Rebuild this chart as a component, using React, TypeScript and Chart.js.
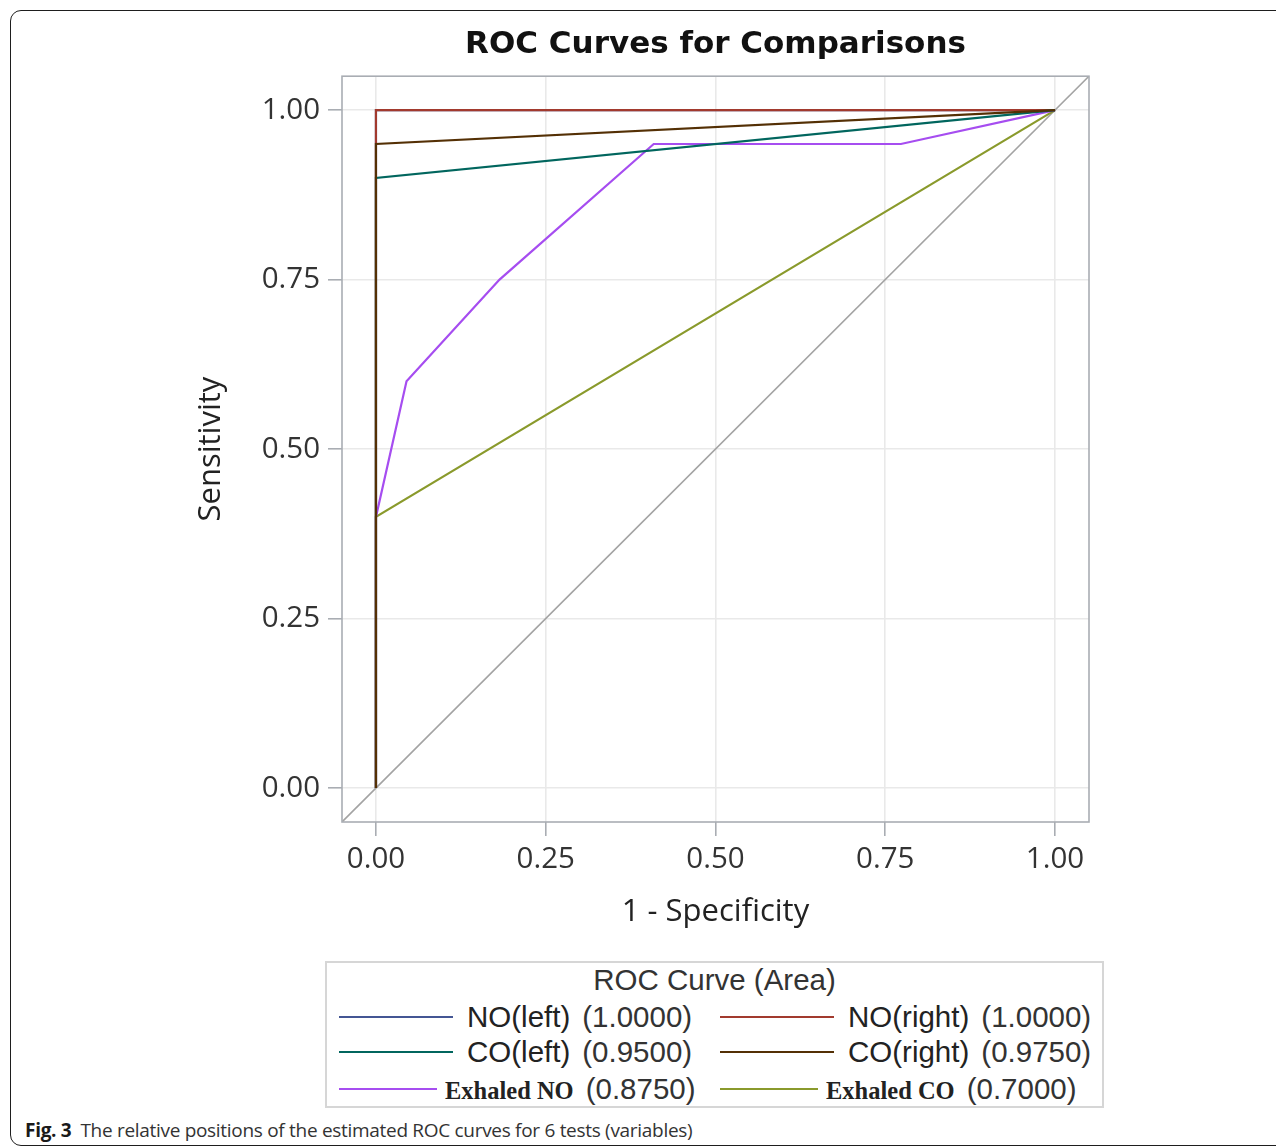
import React, { useEffect, useRef } from "react";
import { Chart, registerables } from "chart.js";

Chart.register(...registerables);

// ---------- data ----------
const TITLE = "ROC Curves for Comparisons";
const X_TITLE = "1 - Specificity";
const Y_TITLE = "Sensitivity";
const AXIS_MIN = -0.05;
const AXIS_MAX = 1.05;
const TICKS = [0, 0.25, 0.5, 0.75, 1];

const LEGEND_TITLE = "ROC Curve (Area)";
const SERIES_NAMES = ["NO(left)", "NO(right)", "CO(left)", "CO(right)", "Exhaled NO", "Exhaled CO"];
const SERIES_AREAS = ["1.0000", "1.0000", "0.9500", "0.9750", "0.8750", "0.7000"];

const NO_LEFT_X = [0, 0, 1];
const NO_LEFT_Y = [0, 1, 1];
const NO_RIGHT_X = [0, 0, 1];
const NO_RIGHT_Y = [0, 1, 1];
const CO_LEFT_X = [0, 0, 1];
const CO_LEFT_Y = [0, 0.9, 1];
const CO_RIGHT_X = [0, 0, 1];
const CO_RIGHT_Y = [0, 0.95, 1];
const EXH_NO_X = [0, 0, 0.045, 0.182, 0.409, 0.773, 1];
const EXH_NO_Y = [0, 0.4, 0.6, 0.75, 0.95, 0.95, 1];
const EXH_CO_X = [0, 0, 1];
const EXH_CO_Y = [0, 0.4, 1];
const DIAG_X = [-0.05, 1.05];
const DIAG_Y = [-0.05, 1.05];

const CAPTION_BOLD = "Fig. 3";
const CAPTION_TEXT = "The relative positions of the estimated ROC curves for 6 tests (variables)";

// ---------- style ----------
const COLORS = ["#445694", "#A23A2E", "#01665E", "#543005", "#A64DF0", "#8A9A2C"];
const SERIF_LABEL = [false, false, false, false, true, true];
const SERIES_X = [NO_LEFT_X, NO_RIGHT_X, CO_LEFT_X, CO_RIGHT_X, EXH_NO_X, EXH_CO_X];
const SERIES_Y = [NO_LEFT_Y, NO_RIGHT_Y, CO_LEFT_Y, CO_RIGHT_Y, EXH_NO_Y, EXH_CO_Y];
// drawing order (lower = on top)
const DRAW_ORDER = [4, 3, 2, 1, 5, 6];

const AXIS_GRAY = "#a9adb3";
const SANS = "'Open Sans', 'Noto Sans', sans-serif";

const toPoints = (xs: number[], ys: number[]) => xs.map((x, i) => ({ x, y: ys[i] }));

const framePlugin = {
  id: "plotFrame",
  afterDraw(chart: any) {
    const { ctx, chartArea } = chart;
    ctx.save();
    ctx.strokeStyle = AXIS_GRAY;
    ctx.lineWidth = 1.6;
    ctx.strokeRect(chartArea.left, chartArea.top, chartArea.right - chartArea.left, chartArea.bottom - chartArea.top);
    ctx.restore();
  },
};

// page -> root coordinates (body margin 8)
const P = (v: number) => v - 8;

function RocChart() {
  const ref = useRef<HTMLCanvasElement | null>(null);
  useEffect(() => {
    if (!ref.current) return;
    const datasets: any[] = SERIES_NAMES.map((name, i) => ({
      label: name,
      data: toPoints(SERIES_X[i], SERIES_Y[i]),
      borderColor: COLORS[i],
      backgroundColor: COLORS[i],
      borderWidth: 2.2,
      pointRadius: 0,
      tension: 0,
      fill: false,
      order: DRAW_ORDER[i],
    }));
    datasets.push({
      label: "diagonal",
      data: toPoints(DIAG_X, DIAG_Y),
      borderColor: "#a3a3a3",
      borderWidth: 1.6,
      pointRadius: 0,
      fill: false,
      order: 10,
    });
    const tickFont = { family: SANS, size: 29.5 };
    const chart = new Chart(ref.current, {
      type: "line",
      data: { datasets },
      plugins: [framePlugin],
      options: {
        animation: false,
        responsive: true,
        maintainAspectRatio: false,
        layout: { padding: { left: 0, right: 10, top: 0, bottom: 0 } },
        plugins: {
          legend: { display: false },
          tooltip: { enabled: false },
          title: {
            display: true,
            text: TITLE,
            fullSize: false,
            color: "#111",
            font: { family: "'DejaVu Sans', sans-serif", size: 31, weight: "bold", lineHeight: 1.2 },
            padding: { top: 16, bottom: 13 },
          },
        },
        scales: {
          x: {
            type: "linear",
            min: AXIS_MIN,
            max: AXIS_MAX,
            afterBuildTicks: (s: any) => {
              s.ticks = TICKS.map((v) => ({ value: v }));
            },
            afterFit: (s: any) => {
              s.height = 118;
            },
            ticks: {
              font: tickFont,
              color: "#333",
              padding: 6,
              maxRotation: 0,
              callback: (v: any) => Number(v).toFixed(2),
            },
            grid: {
              color: "#e9e9e9",
              lineWidth: 1.6,
              tickColor: AXIS_GRAY,
              tickWidth: 1.6,
              tickLength: 14,
            },
            border: { display: false },
            title: {
              display: true,
              text: X_TITLE,
              color: "#222",
              font: { family: SANS, size: 31, lineHeight: 1.2 },
              padding: { top: 0, bottom: 9.5 },
            },
          },
          y: {
            type: "linear",
            min: AXIS_MIN,
            max: AXIS_MAX,
            afterBuildTicks: (s: any) => {
              s.ticks = TICKS.map((v) => ({ value: v }));
            },
            afterFit: (s: any) => {
              s.width = 192;
            },
            ticks: {
              font: tickFont,
              color: "#333",
              padding: 8,
              callback: (v: any) => Number(v).toFixed(2),
            },
            grid: {
              color: "#e9e9e9",
              lineWidth: 1.6,
              tickColor: AXIS_GRAY,
              tickWidth: 1.6,
              tickLength: 14,
            },
            border: { display: false },
            title: {
              display: true,
              text: Y_TITLE,
              color: "#222",
              font: { family: SANS, size: 31, lineHeight: 1.2 },
              padding: { top: 43, bottom: 0 },
            },
          },
        },
      } as any,
    });
    return () => chart.destroy();
  }, []);
  return (
    <div style={{ position: "absolute", left: P(150), top: P(10), width: 949, height: 930 }}>
      <canvas ref={ref} />
    </div>
  );
}

const COL_X = [339, 720];
const ROW_Y = [1017, 1052, 1089];

function Legend() {
  return (
    <>
      <div
        style={{
          position: "absolute",
          left: P(325),
          top: P(961),
          width: 779,
          height: 147,
          boxSizing: "border-box",
          border: "2px solid #d6d6d6",
          background: "#fff",
        }}
      />
      <div
        style={{
          position: "absolute",
          left: P(325),
          width: 779,
          top: P(980) - 17,
          height: 34,
          lineHeight: "34px",
          textAlign: "center",
          fontFamily: "'Liberation Sans', Arial, sans-serif",
          fontSize: 29.5,
          color: "#333",
          whiteSpace: "nowrap",
        }}
      >
        {LEGEND_TITLE}
      </div>
      {SERIES_NAMES.map((name, i) => {
        const serif = SERIF_LABEL[i];
        return (
          <div
            key={name}
            style={{
              position: "absolute",
              left: P(COL_X[i % 2]),
              top: P(ROW_Y[Math.floor(i / 2)]) - 18,
              height: 36,
              display: "flex",
              alignItems: "center",
              whiteSpace: "nowrap",
              color: "#222",
            }}
          >
            <div style={{ width: serif ? 98 : 114, height: 2, background: COLORS[i] }} />
            <span
              style={{
                marginLeft: serif ? 8 : 14,
                fontFamily: serif ? "'Liberation Serif', 'Times New Roman', serif" : "'Liberation Sans', Arial, sans-serif",
                fontWeight: serif ? "bold" : "normal",
                fontSize: serif ? 24.5 : 29.5,
                lineHeight: 1,
                position: "relative",
                top: serif ? 2 : 0,
              }}
            >
              {name}
            </span>
            <span
              style={{
                marginLeft: serif ? 12 : 12,
                fontFamily: "'Liberation Sans', Arial, sans-serif",
                fontSize: 29.5,
                lineHeight: 1,
                color: "#333",
              }}
            >
              ({SERIES_AREAS[i]})
            </span>
          </div>
        );
      })}
    </>
  );
}

export default function App() {
  return (
    <div style={{ position: "relative", width: 1268, height: 1139, overflow: "hidden", background: "#fff" }}>
      <div
        style={{
          position: "absolute",
          left: P(10),
          top: P(10),
          width: 1320,
          height: 1136,
          boxSizing: "border-box",
          border: "1.5px solid #1e1e1e",
          borderRadius: 11,
        }}
      />
      <RocChart />
      <Legend />
      <div
        style={{
          position: "absolute",
          left: P(25),
          top: P(1130) - 13,
          height: 26,
          lineHeight: "26px",
          fontFamily: SANS,
          fontSize: 19,
          color: "#333",
          whiteSpace: "nowrap",
          letterSpacing: -0.3,
        }}
      >
        <b style={{ color: "#1a1a1a" }}>{CAPTION_BOLD}</b>
        <span style={{ marginLeft: 9 }}>{CAPTION_TEXT}</span>
      </div>
    </div>
  );
}
